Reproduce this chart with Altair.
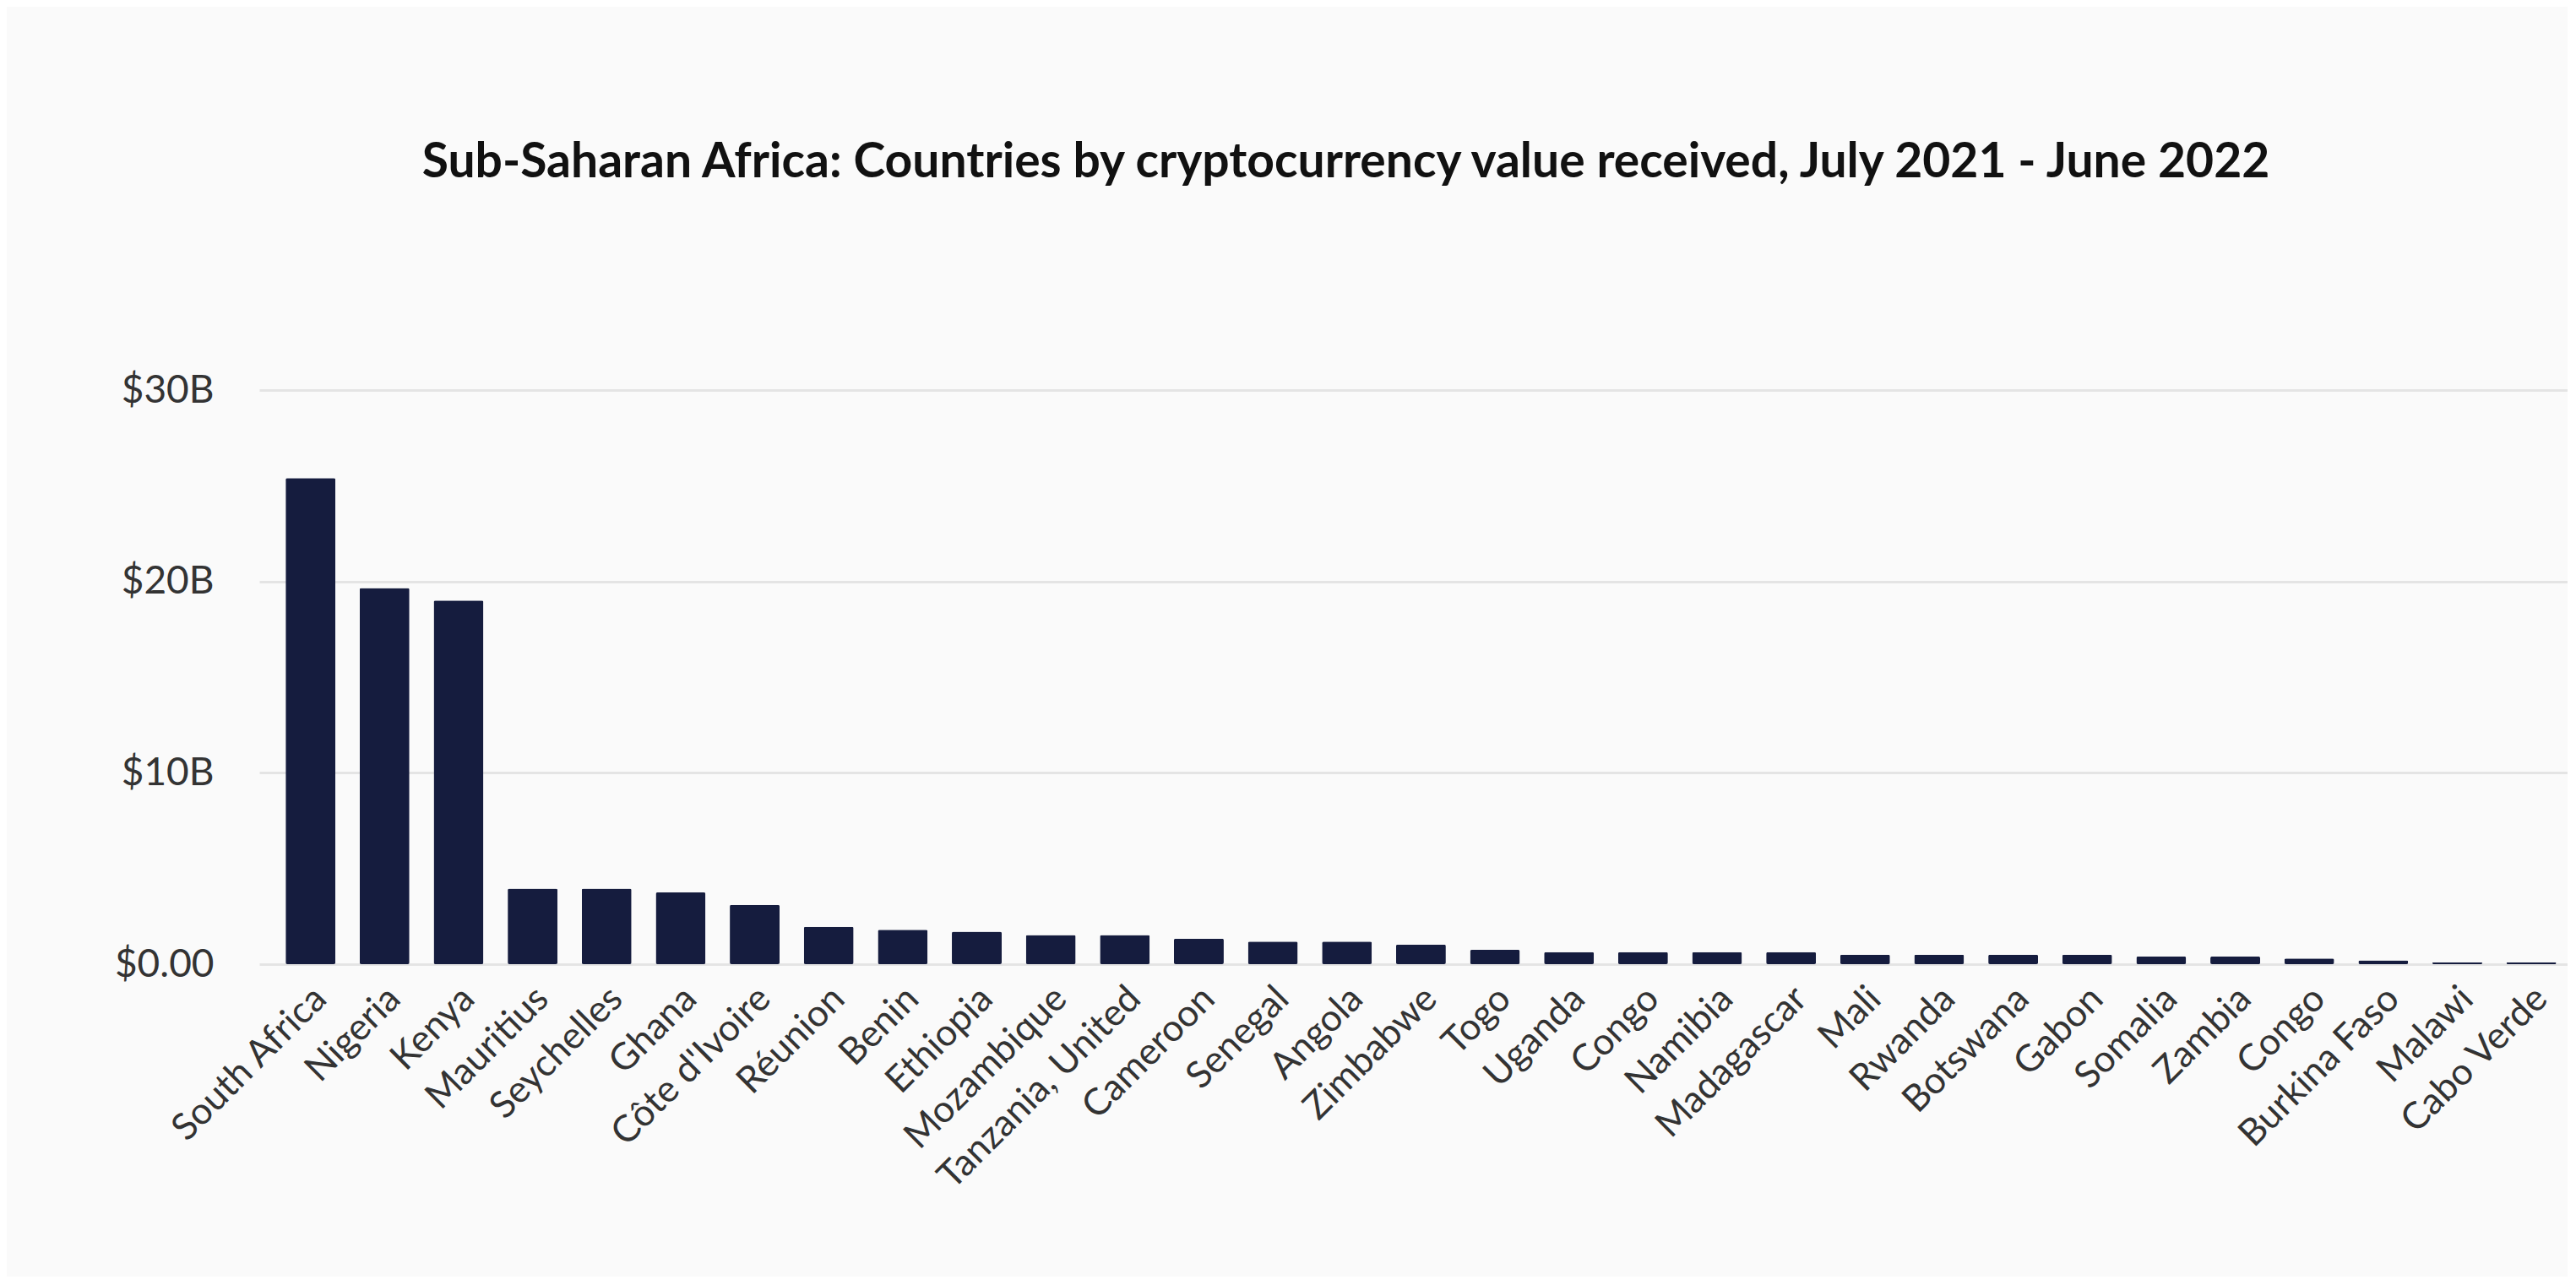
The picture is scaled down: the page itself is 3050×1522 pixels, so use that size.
import json
import altair as alt
import pandas as pd

countries = [
    "South Africa", "Nigeria", "Kenya", "Mauritius", "Seychelles", "Ghana",
    "Côte d'Ivoire", "Réunion", "Benin", "Ethiopia", "Mozambique",
    "Tanzania, United", "Cameroon", "Senegal", "Angola", "Zimbabwe", "Togo",
    "Uganda", "Congo", "Namibia", "Madagascar", "Mali", "Rwanda", "Botswana",
    "Gabon", "Somalia", "Zambia", "Congo", "Burkina Faso", "Malawi", "Cabo Verde",
]
values_bn = [
    25.4, 19.65, 19.0, 3.95, 3.95, 3.75, 3.1, 1.95, 1.8, 1.7, 1.52,
    1.52, 1.33, 1.18, 1.18, 1.03, 0.75, 0.63, 0.63, 0.63, 0.63, 0.5,
    0.5, 0.5, 0.5, 0.4, 0.4, 0.3, 0.2, 0.1, 0.1,
]
y_ticks = [0, 10, 20, 30]

keys = [f"{i:02d}" for i in range(len(countries))]
df = pd.DataFrame({"key": keys, "country": countries, "value": values_bn})

label_expr = json.dumps(countries, ensure_ascii=False) + "[toNumber(datum.value)]"

FONT = "Lato"
TITLE = "Sub-Saharan Africa: Countries by cryptocurrency value received, July 2021 - June 2022"

chart = (
    alt.Chart(df)
    .mark_bar(color="#151c3e", cornerRadius=2)
    .encode(
        x=alt.X(
            "key:N",
            sort=keys,
            title=None,
            scale=alt.Scale(paddingInner=0.327, paddingOuter=0.254, align=0.70),
            axis=alt.Axis(
                labelExpr=label_expr,
                labelAngle=315,
                labelAlign="right",
                labelBaseline="middle",
                labelPadding=34,
                labelOffset=12,
                labelFont=FONT,
                labelFontSize=44,
                labelColor="#333333",
                labelLimit=0,
                domain=False,
                ticks=False,
                grid=False,
                labelOverlap=False,
            ),
        ),
        y=alt.Y(
            "value:Q",
            title=None,
            scale=alt.Scale(domain=[0, 30], nice=False),
            axis=alt.Axis(
                values=y_ticks,
                labelExpr="datum.value == 0 ? '$0.00' : '$' + datum.value + 'B'",
                labelFont=FONT,
                labelFontSize=46,
                labelColor="#333333",
                labelPadding=54,
                domain=False,
                ticks=False,
                grid=True,
                gridColor="#e4e4e4",
                gridWidth=3,
            ),
        ),
    )
    .properties(
        width=2733,
        height=680,
        autosize=alt.AutoSizeParams(type="none"),
        padding={"left": 299, "top": 454, "right": 0, "bottom": 370},
        background="#fafafa",
        title=alt.TitleParams(
            TITLE,
            font=FONT,
            fontSize=57,
            fontWeight="bold",
            color="#111111",
            anchor="middle",
            dx=-80,
            offset=172,
            baseline="alphabetic",
        ),
    )
    .configure_view(stroke=None)
)

chart.save("out.html", embed_options={"renderer": "svg", "actions": False})
